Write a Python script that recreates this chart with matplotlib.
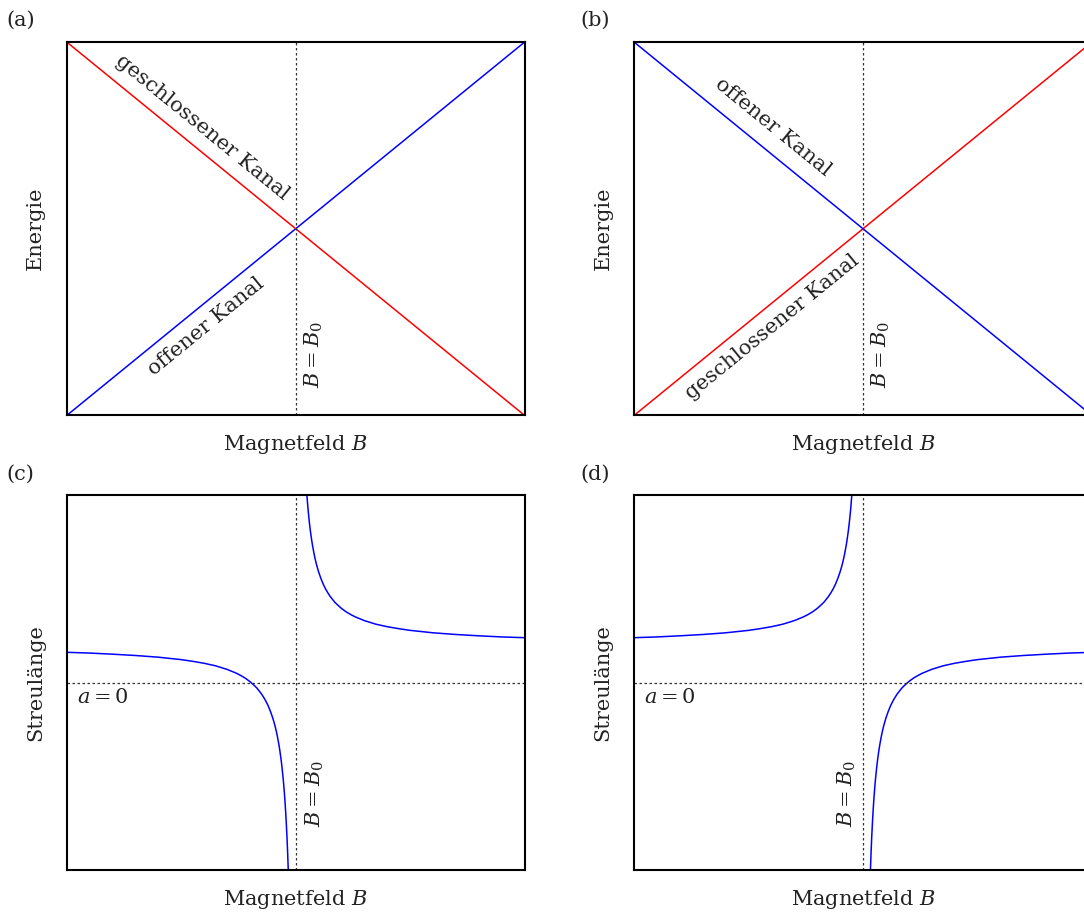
import matplotlib
matplotlib.use('Agg')
import matplotlib.pyplot as plt

plt.rcParams['font.family'] = 'DejaVu Serif'
plt.rcParams['mathtext.fontset'] = 'dejavuserif'

# energy diagrams (a), (b): straight lines from corner to corner
field_lin = [0.0, 1.0]
energy_up = [0.0, 1.0]
energy_down = [1.0, 0.0]

# scattering length (c): branch left of the pole and right of the pole
field_c_left = [0.000, 0.050, 0.100, 0.150, 0.200, 0.250, 0.275, 0.300, 0.325, 0.350,
                0.370, 0.380, 0.390, 0.400, 0.410, 0.415, 0.425, 0.430, 0.435, 0.440,
                0.445, 0.450, 0.453, 0.455, 0.458, 0.460, 0.463, 0.465, 0.468, 0.470,
                0.473, 0.475, 0.477, 0.479, 0.481, 0.4825, 0.484]
a_c_left = [0.161, 0.157, 0.151, 0.144, 0.135, 0.122, 0.113, 0.1025, 0.089, 0.07,
            0.05, 0.0375, 0.023, 0.005, -0.017, -0.029, -0.06, -0.079, -0.1, -0.125,
            -0.155, -0.19, -0.215, -0.233, -0.264, -0.2875, -0.327, -0.357, -0.409, -0.45,
            -0.522, -0.58, -0.648, -0.729, -0.826, -0.914, -1.019]
field_c_right = [0.524, 0.527, 0.530, 0.532, 0.535, 0.537, 0.540, 0.542, 0.545, 0.547,
                 0.550, 0.555, 0.560, 0.565, 0.570, 0.575, 0.585, 0.590, 0.600, 0.610,
                 0.620, 0.630, 0.650, 0.675, 0.700, 0.725, 0.750, 0.800, 0.850, 0.900,
                 0.950, 1.000]
a_c_right = [1.0125, 0.922, 0.85, 0.809, 0.757, 0.727, 0.6875, 0.664, 0.633, 0.615,
             0.59, 0.555, 0.525, 0.5, 0.479, 0.46, 0.429, 0.417, 0.395, 0.377,
             0.3625, 0.35, 0.33, 0.311, 0.2975, 0.287, 0.278, 0.265, 0.256, 0.249,
             0.243, 0.239]

# scattering length (d): mirrored resonance
field_d_left = [0.000, 0.050, 0.100, 0.150, 0.200, 0.250, 0.275, 0.300, 0.325, 0.350,
                0.370, 0.380, 0.390, 0.400, 0.410, 0.415, 0.425, 0.430, 0.435, 0.440,
                0.445, 0.450, 0.453, 0.455, 0.458, 0.460, 0.463, 0.465, 0.468, 0.470,
                0.473, 0.476]
a_d_left = [0.239, 0.243, 0.249, 0.256, 0.265, 0.278, 0.287, 0.2975, 0.311, 0.33,
            0.35, 0.3625, 0.377, 0.395, 0.417, 0.429, 0.46, 0.479, 0.5, 0.525,
            0.555, 0.59, 0.615, 0.633, 0.664, 0.6875, 0.727, 0.757, 0.809, 0.85,
            0.922, 1.0125]
field_d_right = [0.516, 0.5175, 0.519, 0.521, 0.523, 0.525, 0.527, 0.530, 0.532, 0.535,
                 0.537, 0.540, 0.542, 0.545, 0.547, 0.550, 0.555, 0.560, 0.565, 0.570,
                 0.575, 0.585, 0.590, 0.600, 0.610, 0.620, 0.630, 0.650, 0.675, 0.700,
                 0.725, 0.750, 0.800, 0.850, 0.900, 0.950, 1.000]
a_d_right = [-1.019, -0.914, -0.826, -0.729, -0.648, -0.58, -0.522, -0.45, -0.409, -0.357,
             -0.327, -0.2875, -0.264, -0.233, -0.215, -0.19, -0.155, -0.125, -0.1, -0.079,
             -0.06, -0.029, -0.017, 0.005, 0.023, 0.0375, 0.05, 0.07, 0.089, 0.1025,
             0.113, 0.122, 0.135, 0.144, 0.151, 0.157, 0.161]

B0 = 0.5
FS = 15
W, H = 1084, 913
TXT = '#222222'


def make_axes(fig, left_px, bottom_px, width_px, height_px):
    ax = fig.add_axes([left_px / W, 1 - bottom_px / H, width_px / W, height_px / H])
    ax.set_xticks([])
    ax.set_yticks([])
    for sp in ax.spines.values():
        sp.set_linewidth(1.5)
    return ax


def labels(ax, ylabel):
    ax.text(0.5, -0.092, r'Magnetfeld $B$', transform=ax.transAxes,
            ha='center', va='baseline', fontsize=FS, color=TXT)
    ax.text(-0.068, 0.5, ylabel, transform=ax.transAxes, rotation=90,
            ha='center', va='center', fontsize=FS, color=TXT)


def energy_panel(ax, c_up, c_down, txt_up, txt_down, pos_up, pos_down):
    ax.plot(field_lin, energy_up, color=c_up, lw=1.1)
    ax.plot(field_lin, energy_down, color=c_down, lw=1.1)
    ax.axvline(B0, color='#333333', lw=0.9, ls=(0, (2, 2)))
    ax.set_xlim(0, 1)
    ax.set_ylim(0, 1)
    # labels along the lines
    ax.text(pos_down[0], pos_down[1], txt_down, rotation=-45, transform_rotates_text=True,
            rotation_mode='anchor', ha='center', va='center', fontsize=FS, color=TXT)
    ax.text(pos_up[0], pos_up[1], txt_up, rotation=45, transform_rotates_text=True,
            rotation_mode='anchor', ha='center', va='center', fontsize=FS, color=TXT)
    ax.text(0.54, 0.164, r'$B = B_0$', rotation=90, ha='center', va='center',
            fontsize=FS, color=TXT)
    labels(ax, 'Energie')


def scat_panel(ax, xl, yl, xr, yr, text_x):
    ax.plot(xl, yl, color='#0000ff', lw=1.1)
    ax.plot(xr, yr, color='#0000ff', lw=1.1)
    ax.axvline(B0, color='#333333', lw=0.9, ls=(0, (2, 2)))
    ax.axhline(0, color='#333333', lw=0.9, ls=(0, (2, 2)))
    ax.set_xlim(0, 1)
    ax.set_ylim(-1, 1)
    ax.text(0.022, -0.08, r'$a = 0$', ha='left', va='center', fontsize=FS, color=TXT)
    ax.text(text_x, -0.59, r'$B = B_0$', rotation=90, ha='center', va='center',
            fontsize=FS, color=TXT)
    labels(ax, 'Streulänge')


fig = plt.figure(figsize=(W / 100, H / 100), dpi=100)

ax_a = make_axes(fig, 66.7, 415.5, 458, 373.5)
energy_panel(ax_a, 'blue', 'red', 'offener Kanal', 'geschlossener Kanal',
             (0.3035, 0.2386), (0.297, 0.772))

ax_b = make_axes(fig, 634, 415.5, 458, 373.5)
energy_panel(ax_b, 'red', 'blue', 'geschlossener Kanal', 'offener Kanal',
             (0.301, 0.236), (0.3035, 0.772))

ax_c = make_axes(fig, 66.7, 870, 458, 375)
scat_panel(ax_c, field_c_left, a_c_left, field_c_right, a_c_right, 0.541)

ax_d = make_axes(fig, 634, 870, 458, 375)
scat_panel(ax_d, field_d_left, a_d_left, field_d_right, a_d_right, 0.464)

# panel letters
for lab, x, y in [('(a)', 21, 20), ('(b)', 595, 20), ('(c)', 20, 474), ('(d)', 595, 474)]:
    fig.text(x / W, 1 - y / H, lab, ha='center', va='center', fontsize=FS, color=TXT)

fig.savefig('out.png', dpi=100)
